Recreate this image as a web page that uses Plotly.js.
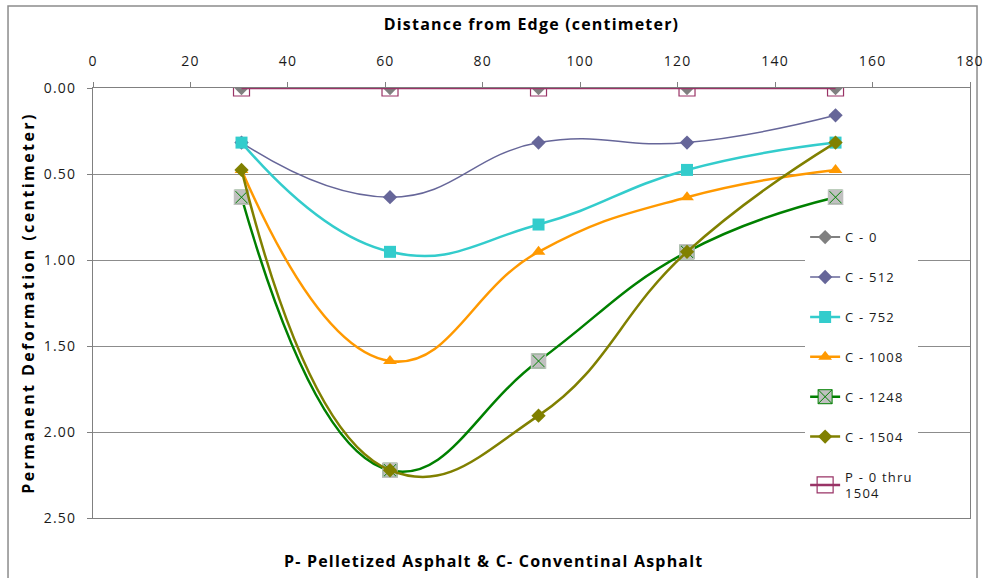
<!DOCTYPE html>
<html>
<head>
<meta charset="utf-8">
<script src="https://cdn.plot.ly/plotly-3.0.1.min.js"></script>
<style>
html, body { margin: 0; padding: 0; background: #ffffff; }
#chart { width: 984px; height: 578px; }
text { letter-spacing: 1.2px; }
text.ytitle { letter-spacing: 2.4px; }
</style>
</head>
<body>
<div id="chart"></div>
<script>
// Distance from edge (cm)
var distance = [30.48, 60.96, 91.44, 121.92, 152.4];

// Permanent deformation (cm) per series
var seriesNames = ["C - 0", "C - 512", "C - 752", "C - 1008", "C - 1248", "C - 1504", "P - 0 thru<br>1504"];
var c0    = [0, 0, 0, 0, 0];
var c512  = [0.3175, 0.635, 0.3175, 0.3175, 0.159];
var c752  = [0.3175, 0.9525, 0.79375, 0.47625, 0.3175];
var c1008 = [0.47625, 1.5875, 0.9525, 0.635, 0.47625];
var c1248 = [0.635, 2.2225, 1.5875, 0.9525, 0.635];
var c1504 = [0.47625, 2.2225, 1.905, 0.9525, 0.3175];
var p0    = [0, 0, 0, 0, 0];

var xTickVals = [0, 20, 40, 60, 80, 100, 120, 140, 160, 180];
var yTickVals = [0, 0.5, 1, 1.5, 2, 2.5];

var xTitle = "Distance from Edge (centimeter)";
var yTitle = "Permanent Deformation (centimeter)";
var footnote = "P- Pelletized Asphalt &amp; C- Conventinal Asphalt";

var FONT = "Open Sans, Liberation Sans, sans-serif";

function tr(name, y, lineColor, lineWidth, symbol, mSize, mColor, mLineColor, mLineWidth, group) {
  return {
    type: "scatter", mode: "lines+markers", name: name, x: distance, y: y,
    line: { color: lineColor, width: lineWidth, shape: "spline", smoothing: 1.3 },
    marker: { symbol: symbol, size: mSize, color: mColor,
              line: { color: mLineColor, width: mLineWidth } },
    legendgroup: group
  };
}

var c1248Cover = {
  type: "scatter", mode: "markers", x: distance, y: c1248, showlegend: false,
  legendgroup: "g4", hoverinfo: "skip",
  marker: { symbol: "square-open", size: 14, color: "#C0C0C0", line: { color: "#C0C0C0", width: 1.5 } }
};

var data = [
  tr(seriesNames[0], c0,    "#808080", 2,   "diamond",     11, "#808080", "#808080", 0, "g0"),
  tr(seriesNames[1], c512,  "#666699", 1.5, "diamond",     11, "#666699", "#666699", 0, "g1"),
  tr(seriesNames[2], c752,  "#33CCCC", 2.5, "square",      12, "#33CCCC", "#33CCCC", 0, "g2"),
  tr(seriesNames[3], c1008, "#FF9900", 2.5, "triangle-up", 12, "#FF9900", "#FF9900", 0, "g3"),
  tr(seriesNames[4], c1248, "#008000", 2.5, "square-x",    14, "#C0C0C0", "#008000", 1, "g4"),
  c1248Cover,
  tr(seriesNames[5], c1504, "#808000", 2.5, "diamond",     11, "#808000", "#808000", 0, "g5"),
  tr(seriesNames[6], p0,    "#993366", 2.5, "square-open", 16, "#993366", "#993366", 1.2, "g6")
];

var layout = {
  width: 984, height: 578,
  paper_bgcolor: "#ffffff", plot_bgcolor: "#ffffff",
  margin: { l: 93, r: 14, t: 88, b: 60 },
  font: { family: FONT, size: 13, color: "#1a1a1a" },
  showlegend: true,
  xaxis: {
    side: "top", range: [0, 180], tickvals: xTickVals, ticktext: xTickVals.map(String),
    showgrid: false, zeroline: false,
    showline: true, linecolor: "#808080", linewidth: 1, mirror: true,
    ticks: "outside", ticklen: 5, tickcolor: "#808080", ticklabelstandoff: 10,
    tickfont: { family: FONT, size: 14, color: "#1a1a1a" },
    title: { text: xTitle, standoff: 16, font: { family: FONT, size: 16, color: "#000000", weight: "bold" } }
  },
  yaxis: {
    range: [2.5, 0], tickvals: yTickVals, tickformat: ".2f",
    showgrid: true, gridcolor: "#8c8c8c", gridwidth: 1, zeroline: false,
    showline: true, linecolor: "#808080", linewidth: 1, mirror: true,
    ticks: "outside", ticklen: 5, tickcolor: "#808080", ticklabelstandoff: 8,
    tickfont: { family: FONT, size: 14, color: "#1a1a1a" },
    title: { text: yTitle, standoff: 5, font: { family: FONT, size: 16, color: "#000000", weight: "bold" } }
  },
  legend: {
    x: 0.812, y: 0.688, xanchor: "left", yanchor: "top",
    bgcolor: "#ffffff", borderwidth: 0,
    font: { family: FONT, size: 13, color: "#1a1a1a" },
    traceorder: "grouped", tracegroupgap: 20
  },
  annotations: [{
    text: footnote, xref: "paper", yref: "paper", x: 0.457, y: -0.1,
    xanchor: "center", yanchor: "middle", showarrow: false,
    font: { family: FONT, size: 16, color: "#000000", weight: "bold" }
  }],
  shapes: [{
    type: "rect", xref: "paper", yref: "paper",
    x0: -0.0969, x1: 1.008, y0: -0.2, y1: 1.1907,
    line: { color: "#8c8c8c", width: 1.5 }, layer: "below"
  }]
};

Plotly.newPlot("chart", data, layout, { displayModeBar: false, staticPlot: true });
</script>
</body>
</html>
